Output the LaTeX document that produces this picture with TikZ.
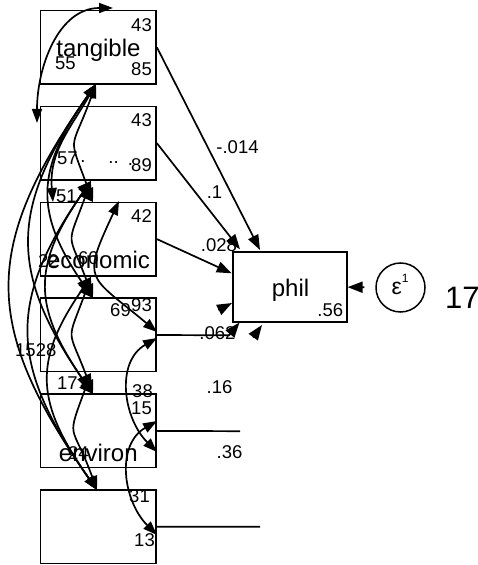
\documentclass[tikz,border=0pt]{standalone}
\usepackage{fontspec}
\setmainfont{Liberation Sans}
\usetikzlibrary{arrows.meta, positioning}
\tikzset{
  obs/.style={rectangle, draw=black, line width=1.7pt, minimum width=115.5pt,
              minimum height=73.3pt, inner sep=0pt},
  endo/.style={obs, minimum width=113.4pt, minimum height=70pt},
  err/.style={circle, draw=black, line width=1.5pt, minimum size=49pt, inner sep=0pt},
  lbl/.style={font=\fontsize{24}{26}\selectfont, inner sep=0pt},
  num/.style={font=\fontsize{18.5}{20}\selectfont, inner sep=0pt},
  arr/.style={-{Triangle[length=15pt, width=11pt]}, line width=1.7pt},
  plain/.style={line width=1.7pt},
  cov/.style={{Triangle[length=14pt, width=10pt]}-{Triangle[length=14pt, width=10pt]},
              line width=1.7pt}
}
\begin{document}
\begin{tikzpicture}[x=1pt, y=1pt]
  \useasboundingbox (0,0) rectangle (478,565);

  % observed exogenous variables
  \node[obs] (tang) at (98.3,517.7) {};
  \node[obs, below=20.9pt of tang] (x2) {};
  \node[obs, below=20.9pt of x2] (econ) {};
  \node[obs, below=20.9pt of econ] (x4) {};
  \node[obs, below=20.9pt of x4] (envir) {};
  \node[obs, below=20.9pt of envir] (x6) {};

  % outcome and its error
  \node[endo] (phil) at (290,278.3) {};
  \node[err] (e1) at (400.5,277.5) {};

  % ends of the covariance arcs
  \coordinate (tp1) at (113,557);
  \coordinate (l2) at (37,442);
  \coordinate (b1) at (96,481);
  \coordinate (b2) at (91,384);
  \coordinate (b3) at (91,288);
  \coordinate (b4) at (91,192);
  \coordinate (t3) at (93,363);
  \coordinate (t3l) at (53,363);
  \coordinate (t4) at (93,267);
  \coordinate (t5) at (93,171);
  \coordinate (t6) at (97,75);
  \coordinate (t3r) at (119,364);
  \coordinate (r4a) at (157,233);
  \coordinate (r4b) at (157,227);
  \coordinate (r5a) at (157,144);
  \coordinate (r5b) at (157,113);
  \coordinate (r6) at (157,30);

  \draw[cov] (l2) to[out=90, in=180, distance=55pt] (tp1);
  \draw[cov] (b1) to[out=250, in=110, distance=75pt] (t3);
  \draw[cov] (b1) to[out=240, in=95, distance=50pt] (t3l);
  \draw[cov] (b1) to[out=235, in=125, distance=105pt] (t4);
  \draw[cov] (b1) to[out=235, in=125, distance=150pt] (t5);
  \draw[cov] (b1) to[out=235, in=125, distance=200pt] (t6);
  \draw[cov] (b2) to[out=250, in=110, distance=75pt] (t4);
  \draw[cov] (b2) to[out=235, in=125, distance=105pt] (t5);
  \draw[cov] (b2) to[out=235, in=125, distance=150pt] (t6);
  \draw[cov] (b3) to[out=250, in=110, distance=75pt] (t5);
  \draw[cov] (b3) to[out=235, in=125, distance=105pt] (t6);
  \draw[cov] (b4) to[out=250, in=110, distance=75pt] (t6);
  \draw[cov] (b2) to[out=225, in=135, distance=8pt] (t3);
  \draw[cov] (b3) to[out=225, in=135, distance=8pt] (t4);
  \draw[cov] (b4) to[out=225, in=135, distance=8pt] (t5);
  \draw[cov] (t3r) to[out=245, in=140, distance=90pt] (r4a);
  \draw[cov] (r4b) to[out=210, in=135, distance=48pt] (r5b);
  \draw[cov] (r5a) to[out=210, in=135, distance=48pt] (r6);

  % paths to phil
  \coordinate (h1) at (260,315);
  \coordinate (h2) at (240,315.7);
  \coordinate (h3) at (231.7,291.7);
  \coordinate (k4) at (229,229.7);
  \coordinate (h4) at (239.5,242.5);
  \coordinate (k5) at (240,133.8);
  \coordinate (k6) at (260,38.2);
  \coordinate (ha0) at (218.5,255);
  \coordinate (ha) at (232,262);
  \coordinate (hc0) at (253,227.5);
  \coordinate (hc) at (262,240);
  \draw[arr] (tang.east) -- (h1);
  \draw[arr] (x2.east) -- (h2);
  \draw[arr] (econ.east) -- (h3);
  \draw[arr] (x4.east) -- (k4) -- (h4);
  \draw[plain] (envir.east) -- (k5);
  \draw[plain] (x6.east) -- (k6);
  \draw[arr] (ha0) -- (ha);
  \draw[arr] (hc0) -- (hc);
  \draw[arr, shorten <=11pt] (e1) -- (phil);

  % variable names
  \node[lbl, anchor=base] (tangtxt) at (98.5,508.3) {tangible};
  \node[lbl, anchor=base] (econtxt) at (98.5,296.7) {economic};
  \node[lbl, anchor=base] (envirtxt) at (98.3,103.3) {environ};
  \node[lbl, anchor=base] (philtxt) at (290.5,268.3) {phil};
  \node[anchor=base west, inner sep=0pt] (e1txt) at (391.5,270)
    {\fontsize{23}{23}\selectfont ε\raisebox{12pt}{\fontsize{12}{12}\selectfont 1}};
  \node[anchor=base west, inner sep=0pt, font=\fontsize{31}{31}\selectfont] (evar) at (445,256.7) {17};

  % means, intercepts, variances
  \node[num, anchor=base east] (m1) at (152,533) {43};
  \node[num, anchor=base west] (c1) at (55,495) {55};
  \node[num, anchor=base east] (v1) at (152,489) {85};
  \node[num, anchor=base east] (m2) at (152,438) {43};
  \node[num, anchor=base west] (c2) at (57,400) {57};
  \node[num, anchor=base east] (v2) at (152,393) {89};
  \node[num, anchor=base] (d1) at (83,402) {.};
  \node[num, anchor=base] (d2) at (113.5,401) {..};
  \node[num, anchor=base] (d3) at (130.5,399) {.};
  \node[num, anchor=base east] (m3) at (152,342) {42};
  \node[num, anchor=base west] (c3a) at (38,297) {22};
  \node[num, anchor=base west] (c3b) at (78,300) {60};
  \node[num, anchor=base west] (c3c) at (56,362) {51};
  \node[num, anchor=base east] (m4) at (152,253) {93};
  \node[num, anchor=base east] (c4a) at (131,248) {69};
  \node[num, anchor=base west] (c4b) at (15,208) {1528};
  \node[num, anchor=base west] (c4c) at (57,175) {17};
  \node[num, anchor=base east] (c5a) at (153,167) {38};
  \node[num, anchor=base east] (m5) at (152,150) {15};
  \node[num, anchor=base west] (c5b) at (68,105) {24};
  \node[num, anchor=base east] (m6) at (150,62) {31};
  \node[num, anchor=base east] (v6) at (155,18) {13};

  % path coefficients
  \node[num, anchor=base] (p1) at (237.5,411.7) {-.014};
  \node[num, anchor=base] (p2) at (214.5,366.7) {.1};
  \node[num, anchor=base] (p3) at (219,313.3) {.028};
  \node[num, anchor=base] (p4) at (217.5,225) {.062};
  \node[num, anchor=base] (p5) at (219.5,171.7) {.16};
  \node[num, anchor=base] (p6) at (229.5,106.7) {.36};
  \node[num, anchor=base east] (pv) at (343.3,248.3) {.56};
\end{tikzpicture}
\end{document}
